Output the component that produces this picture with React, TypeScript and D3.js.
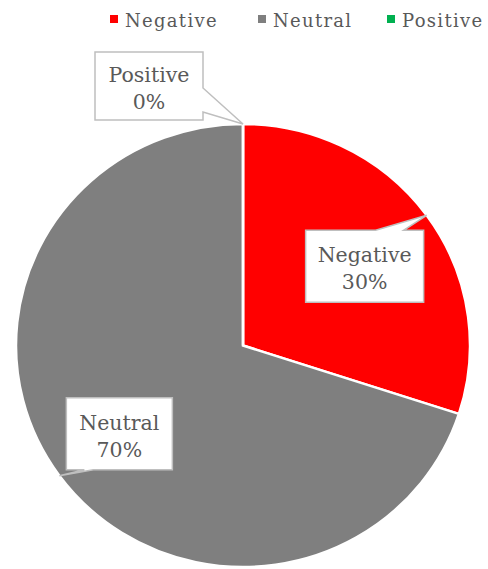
import React from "react";
import * as d3 from "d3";

const categories = ["Negative", "Neutral", "Positive"];
const values = [30, 70, 0];
const colors = ["#FF0000", "#7F7F7F", "#00B050"];

const W = 488;
const H = 569;
const CX = 243;
const CY = 345.5;
const RX = 227;
const RY = 221.5;

// callout layout (relative to slice tip): box offset & size, wedge side & base
const callouts = [
  { dx: -121, dy: 15, w: 118, h: 72, side: "top", a: 70, b: 98 },
  { dx: 7, dy: -78, w: 106, h: 72, side: "bottom", a: 18, b: 27 },
  { dx: -148, dy: -72, w: 108, h: 68, side: "right", a: 36, b: 60 },
];
const legendX = [110, 258, 387];

function calloutPath(x0: number, y0: number, w: number, h: number, side: string, a: number, b: number, tx: number, ty: number) {
  const x1 = x0 + w, y1 = y0 + h;
  const p = d3.path();
  p.moveTo(x0, y0);
  if (side === "top") { p.lineTo(x0 + a, y0); p.lineTo(tx, ty); p.lineTo(x0 + b, y0); }
  p.lineTo(x1, y0);
  if (side === "right") { p.lineTo(x1, y0 + a); p.lineTo(tx, ty); p.lineTo(x1, y0 + b); }
  p.lineTo(x1, y1);
  if (side === "bottom") { p.lineTo(x0 + b, y1); p.lineTo(tx, ty); p.lineTo(x0 + a, y1); }
  p.lineTo(x0, y1);
  p.closePath();
  return p.toString();
}

export default function App() {
  const pie = d3.pie<number>().sort(null).value((d) => d);
  const arcs = pie(values);
  const arc = d3.arc<d3.PieArcDatum<number>>().innerRadius(0).outerRadius(RX);
  const total = d3.sum(values);
  const font = "'DejaVu Serif', serif";
  return (
    <svg width={W} height={H} style={{ position: "absolute", left: 0, top: 0, background: "#fff" }}>
      <g transform={`translate(${CX},${CY}) scale(1,${RY / RX})`}>
        {arcs.map((a, i) => (
          <path key={i} d={arc(a) || ""} fill={colors[i]} stroke="#fff" strokeWidth={2.5} strokeLinejoin="miter" />
        ))}
      </g>
      {arcs.map((a, i) => {
        const mid = (a.startAngle + a.endAngle) / 2;
        const tx = CX + RX * Math.sin(mid);
        const ty = CY - RY * Math.cos(mid);
        const c = callouts[i];
        const x0 = tx + c.dx, y0 = ty + c.dy;
        const pct = Math.round((values[i] / total) * 100) + "%";
        return (
          <g key={"c" + i}>
            <path d={calloutPath(x0, y0, c.w, c.h, c.side, c.a, c.b, tx, ty)} fill="#fff" stroke="#BFBFBF" strokeWidth={1.5} />
            <text x={x0 + c.w / 2} y={y0 + c.h / 2 - 4} textAnchor="middle" fontFamily={font} fontSize={20.5} fill="#595959">{categories[i]}</text>
            <text x={x0 + c.w / 2} y={y0 + c.h / 2 + 23} textAnchor="middle" fontFamily={font} fontSize={20.5} fill="#595959">{pct}</text>
          </g>
        );
      })}
      {categories.map((c, i) => (
        <g key={"l" + i}>
          <rect x={legendX[i]} y={15} width={8} height={8} fill={colors[i]} />
          <text x={legendX[i] + 15} y={27} fontFamily={font} fontSize={18} letterSpacing={1.3} fill="#595959">{c}</text>
        </g>
      ))}
    </svg>
  );
}
